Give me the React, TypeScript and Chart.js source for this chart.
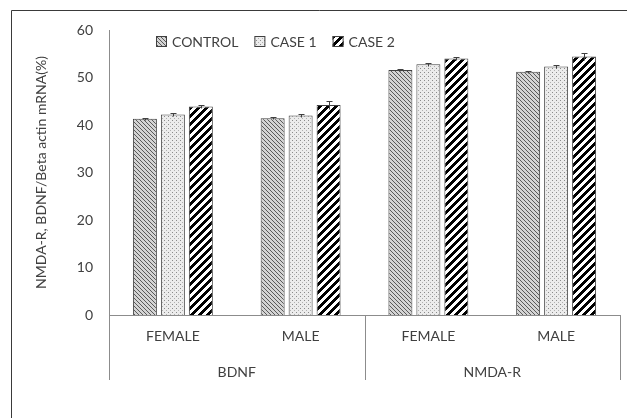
import React, { useEffect, useRef } from 'react';
import { Chart, registerables } from 'chart.js';

Chart.register(...registerables);

const GROUPS = ['BDNF', 'NMDA-R'];
const SUBGROUPS = ['FEMALE', 'MALE', 'FEMALE', 'MALE'];
const SERIES = ['CONTROL', 'CASE 1', 'CASE 2'];
const CONTROL = [41.3, 41.4, 51.6, 51.2];
const CASE1 = [42.2, 42.0, 52.8, 52.3];
const CASE2 = [43.9, 44.2, 54.0, 54.4];
const CONTROL_ERR = [0.2, 0.2, 0.2, 0.2];
const CASE1_ERR = [0.3, 0.3, 0.3, 0.3];
const CASE2_ERR = [0.3, 0.8, 0.3, 0.7];
const Y_MIN = 0;
const Y_MAX = 60;
const Y_STEP = 10;
const Y_TITLE = 'NMDA-R, BDNF/Beta actin mRNA(%)';
const SUBS_PER_GROUP = 2;

const FONT = 'Lato, "Open Sans", sans-serif';
const TEXT = '#404040';
const AXIS = '#8c8c8c';

function makePattern(kind: string): CanvasPattern | string {
  const c = document.createElement('canvas');
  const size = kind === 'case2' ? 8 : 4;
  c.width = size;
  c.height = size;
  const g = c.getContext('2d')!;
  if (kind === 'control') {
    g.fillStyle = '#d4d4d4';
    g.fillRect(0, 0, 4, 4);
    g.fillStyle = '#5a5a5a';
    for (let i = 0; i < 4; i++) g.fillRect(i, i, 1, 1);
  } else if (kind === 'case1') {
    g.fillStyle = '#ececec';
    g.fillRect(0, 0, 4, 4);
    g.fillStyle = '#8a8a8a';
    g.fillRect(0, 0, 1, 1);
    g.fillStyle = '#b0b0b0';
    g.fillRect(2, 2, 1, 1);
  } else {
    g.fillStyle = '#ffffff';
    g.fillRect(0, 0, 8, 8);
    g.fillStyle = '#000000';
    for (let y = 0; y < 8; y++) {
      for (let x = 0; x < 8; x++) {
        if ((x + y) % 8 < 4) g.fillRect(x, y, 1, 1);
      }
    }
  }
  const p = g.createPattern(c, 'repeat');
  return p || '#888';
}

export default function App() {
  const ref = useRef<HTMLCanvasElement | null>(null);

  useEffect(() => {
    const canvas = ref.current;
    if (!canvas) return;
    const fills = [makePattern('control'), makePattern('case1'), makePattern('case2')];
    const values = [CONTROL, CASE1, CASE2];
    const errs = [CONTROL_ERR, CASE1_ERR, CASE2_ERR];

    const errorBars = {
      id: 'errorBars',
      afterDatasetsDraw(chart: any) {
        const ctx = chart.ctx;
        const y = chart.scales.y;
        ctx.save();
        ctx.strokeStyle = '#404040';
        ctx.lineWidth = 1;
        chart.data.datasets.forEach((ds: any, di: number) => {
          const meta = chart.getDatasetMeta(di);
          meta.data.forEach((el: any, i: number) => {
            const v = ds.data[i];
            const e = errs[di][i];
            const x = Math.round(el.x) + 0.5;
            const yt = Math.round(y.getPixelForValue(v + e)) + 0.5;
            const yb = Math.round(y.getPixelForValue(v - e)) + 0.5;
            ctx.beginPath();
            ctx.moveTo(x, yt);
            ctx.lineTo(x, yb);
            ctx.moveTo(x - 3, yt);
            ctx.lineTo(x + 3, yt);
            ctx.stroke();
          });
        });
        ctx.restore();
      },
    };

    const decor = {
      id: 'decor',
      afterDraw(chart: any) {
        const ctx = chart.ctx;
        const xs = chart.scales.x;
        const area = chart.chartArea;
        ctx.save();
        // frame
        ctx.strokeStyle = '#3a3a3a';
        ctx.lineWidth = 1;
        ctx.beginPath();
        ctx.moveTo(11.5, chart.height);
        ctx.lineTo(11.5, 10.5);
        ctx.lineTo(chart.width, 10.5);
        ctx.stroke();
        // separators + group labels
        ctx.strokeStyle = AXIS;
        const bottom = area.bottom + 65;
        const bounds: number[] = [];
        for (let g = 0; g <= GROUPS.length; g++) {
          bounds.push(xs.getPixelForValue(g * SUBS_PER_GROUP - 0.5));
        }
        bounds.forEach((bx) => {
          const px = Math.round(bx) + 0.5;
          ctx.beginPath();
          ctx.moveTo(px, area.bottom);
          ctx.lineTo(px, bottom);
          ctx.stroke();
        });
        ctx.fillStyle = TEXT;
        ctx.font = '14px ' + FONT;
        ctx.textAlign = 'center';
        ctx.textBaseline = 'middle';
        GROUPS.forEach((g, i) => {
          ctx.fillText(g, (bounds[i] + bounds[i + 1]) / 2, area.bottom + 57);
        });
        // legend
        ctx.textAlign = 'left';
        let lx = 156;
        const ly = 41;
        SERIES.forEach((s, i) => {
          ctx.fillStyle = fills[i] as any;
          ctx.fillRect(lx, ly - 5, 11, 11);
          ctx.strokeStyle = '#404040';
          ctx.strokeRect(lx + 0.5, ly - 4.5, 10, 10);
          ctx.fillStyle = TEXT;
          ctx.fillText(s, lx + 16, ly + 1);
          lx += 16 + ctx.measureText(s).width + 16;
        });
        ctx.restore();
      },
    };

    const chart = new Chart(canvas, {
      type: 'bar',
      data: {
        labels: SUBGROUPS,
        datasets: SERIES.map((s, i) => ({
          label: s,
          data: values[i],
          backgroundColor: fills[i] as any,
          borderColor: '#404040',
          borderWidth: 1,
          categoryPercentage: 0.657,
          barPercentage: 0.857,
        })),
      },
      options: {
        responsive: false,
        animation: false,
        layout: { padding: { left: 29, top: 30, right: 7, bottom: 0 } },
        plugins: { legend: { display: false }, tooltip: { enabled: false } },
        scales: {
          x: {
            grid: { display: false, drawTicks: false },
            border: { display: true, color: AXIS },
            ticks: { color: TEXT, font: { family: FONT, size: 14 }, padding: 13 },
            afterFit(scale: any) {
              scale.height = 103;
            },
          },
          y: {
            min: Y_MIN,
            max: Y_MAX,
            grid: { display: false, drawTicks: false },
            border: { display: true, color: AXIS },
            ticks: { stepSize: Y_STEP, color: TEXT, font: { family: FONT, size: 14 }, padding: 16 },
            title: { display: true, text: Y_TITLE, color: TEXT, font: { family: FONT, size: 14 } },
            afterFit(scale: any) {
              scale.width = 80;
            },
          },
        },
      },
      plugins: [errorBars, decor],
    });
    return () => chart.destroy();
  }, []);

  return (
    <div style={{ position: 'fixed', left: 0, top: 0, width: 627, height: 418, background: '#fff' }}>
      <canvas ref={ref} width={627} height={418} style={{ width: 627, height: 418, display: 'block' }} />
    </div>
  );
}
